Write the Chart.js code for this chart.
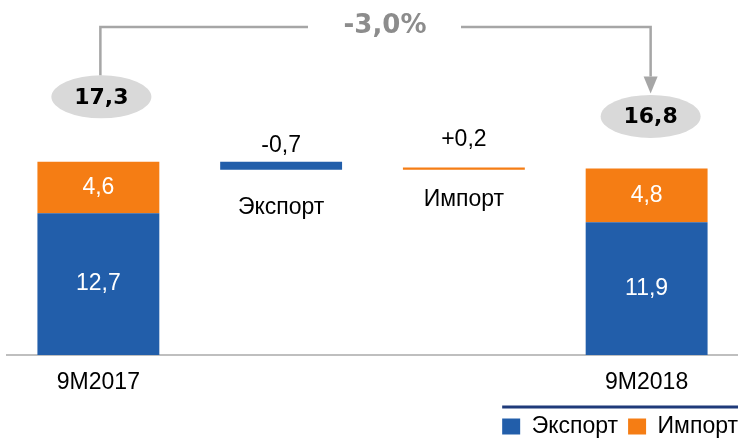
<!DOCTYPE html>
<html>
<head>
<meta charset="utf-8">
<script src="https://cdn.jsdelivr.net/npm/chart.js@4.4.0/dist/chart.umd.min.js"></script>
<style>
  html, body { margin: 0; padding: 0; background: #fff; overflow: hidden; }
  #wrap { width: 738px; height: 448px; }
</style>
</head>
<body>
<div id="wrap"><canvas id="grafico"></canvas></div>
<script>
// dados (млрд)
const categorias = ['9M2017', 'Экспорт', 'Импорт', '9M2018'];
const exportInicio = 12.7;
const importInicio = 4.6;
const exportFim = 11.9;
const importFim = 4.8;
const variacaoExport = -0.7;
const variacaoImport = 0.2;
const variacaoTotal = '-3,0%';

const azul = '#225EAA';
const laranja = '#F57D14';

const totalInicio = exportInicio + importInicio;
const aposExport = totalInicio + variacaoExport;
const totalFim = aposExport + variacaoImport;

// barras flutuantes [inicio, fim]
const serieExport = [[0, exportInicio], [aposExport, totalInicio], null, [0, exportFim]];
const serieImport = [[exportInicio, totalInicio], null, [aposExport, totalFim], [exportFim, exportFim + importFim]];

const fmt = v => v.toFixed(1).replace('.', ',');
const fmtSinal = v => (v > 0 ? '+' : '') + fmt(v);

// empurra a legenda ate a borda direita
const legendaDireita = {
  id: 'legendaDireita',
  afterLayout(chart) {
    const leg = chart.legend;
    if (!leg) return;
    leg.left += 10;
    leg.right += 10;
    if (leg.adjustHitBoxes) leg.adjustHitBoxes();
  }
};

const etiquetas = {
  id: 'etiquetas',
  afterDatasetsDraw(chart) {
    const ctx = chart.ctx;
    const x = chart.scales.x;
    const y = chart.scales.y;
    ctx.save();
    ctx.textAlign = 'center';
    ctx.textBaseline = 'middle';

    // valores dentro das colunas
    ctx.fillStyle = '#fff';
    ctx.font = '23px "Liberation Sans", Arial, sans-serif';
    [[0, exportInicio, importInicio], [3, exportFim, importFim]].forEach(([i, e, im]) => {
      const cx = x.getPixelForValue(i);
      ctx.fillText(fmt(e), cx, (y.getPixelForValue(0) + y.getPixelForValue(e)) / 2);
      ctx.fillText(fmt(im), cx, (y.getPixelForValue(e) + y.getPixelForValue(e + im)) / 2);
    });

    // variações
    ctx.fillStyle = '#000';
    const cx1 = x.getPixelForValue(1);
    ctx.fillText(fmtSinal(variacaoExport), cx1, y.getPixelForValue(totalInicio) - 16);
    ctx.fillText(categorias[1], cx1, y.getPixelForValue(aposExport) + 38);
    const cx2 = x.getPixelForValue(2);
    ctx.fillText(fmtSinal(variacaoImport), cx2, y.getPixelForValue(totalFim) - 28);
    ctx.fillText(categorias[2], cx2, y.getPixelForValue(aposExport) + 30);

    // elipses com totais
    const e1x = x.getPixelForValue(0) + 3, e1y = y.getPixelForValue(totalInicio) - 65;
    const e2x = x.getPixelForValue(3) + 4, e2y = y.getPixelForValue(totalFim) - 51;
    ctx.fillStyle = '#D9D9D9';
    [[e1x, e1y], [e2x, e2y]].forEach(([ex, ey]) => {
      ctx.beginPath();
      ctx.ellipse(ex, ey, 50, 21.5, 0, 0, Math.PI * 2);
      ctx.fill();
    });
    ctx.fillStyle = '#000';
    ctx.font = 'bold 22px "DejaVu Sans", Verdana, sans-serif';
    ctx.fillText(fmt(totalInicio), e1x, e1y + 1);
    ctx.fillText(fmt(totalFim), e2x, e2y + 1);

    // seta de variação total
    const topo = 27;
    const meio = (e1x + e2x) / 2 - 1;
    ctx.strokeStyle = '#A6A6A6';
    ctx.lineWidth = 2.5;
    ctx.beginPath();
    ctx.moveTo(e1x - 1, e1y - 21.5);
    ctx.lineTo(e1x - 1, topo);
    ctx.lineTo(meio - 67, topo);
    ctx.moveTo(meio + 86, topo);
    ctx.lineTo(e2x, topo);
    ctx.lineTo(e2x, e2y - 40);
    ctx.stroke();
    ctx.fillStyle = '#A6A6A6';
    ctx.beginPath();
    ctx.moveTo(e2x - 7, e2y - 40);
    ctx.lineTo(e2x + 7, e2y - 40);
    ctx.lineTo(e2x, e2y - 23);
    ctx.closePath();
    ctx.fill();

    ctx.fillStyle = '#8C8C8C';
    ctx.font = 'bold 26px "DejaVu Sans", Verdana, sans-serif';
    ctx.fillText(variacaoTotal, meio + 10, topo - 1);

    // linha acima da legenda
    const leg = chart.legend;
    if (leg && leg.legendHitBoxes.length) {
      ctx.strokeStyle = '#1F3A7A';
      ctx.lineWidth = 3;
      ctx.beginPath();
      ctx.moveTo(leg.legendHitBoxes[0].left, 407);
      ctx.lineTo(chart.width, 407);
      ctx.stroke();
    }
    ctx.restore();
  }
};

new Chart(document.getElementById('grafico'), {
  type: 'bar',
  data: {
    labels: categorias,
    datasets: [
      { label: 'Экспорт', data: serieExport, backgroundColor: azul, grouped: false },
      { label: 'Импорт', data: serieImport, backgroundColor: laranja, grouped: false }
    ]
  },
  options: {
    responsive: true,
    maintainAspectRatio: false,
    animation: false,
    barPercentage: 0.667,
    categoryPercentage: 1,
    layout: { padding: { left: 7, right: 0, top: 0, bottom: 0 } },
    plugins: {
      tooltip: { enabled: false },
      legend: {
        position: 'bottom',
        align: 'end',
        labels: {
          boxWidth: 18,
          boxHeight: 16,
          padding: 10,
          color: '#000',
          font: { size: 23, family: '"Liberation Sans", Arial, sans-serif' }
        }
      }
    },
    scales: {
      x: {
        grid: { display: false, drawTicks: false },
        border: { color: '#BFBFBF', width: 2 },
        ticks: {
          padding: 14,
          color: '#000',
          font: { size: 23, family: '"Liberation Sans", Arial, sans-serif' },
          callback: (v, i) => (i === 0 || i === 3) ? categorias[i] : ''
        },
        afterFit: s => { s.height = 50; }
      },
      y: { display: false, min: 0, max: 31.8 }
    }
  },
  plugins: [legendaDireita, etiquetas]
});
</script>
</body>
</html>
